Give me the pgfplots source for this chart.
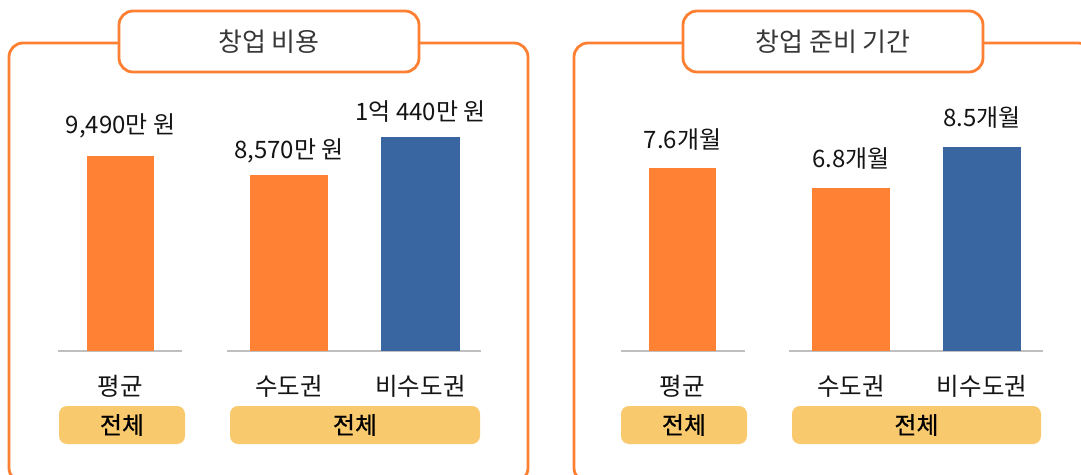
\documentclass[border=0pt]{standalone}
\usepackage{fontspec}
\setmainfont{Noto Sans CJK KR}
\newfontfamily\medfont{Noto Sans CJK KR}[FakeBold=0.7]
\usepackage{pgfplots}
\pgfplotsset{compat=1.18}
\definecolor{bOrange}{RGB}{254,129,52}
\definecolor{bBlue}{RGB}{57,101,160}
\definecolor{frameC}{RGB}{253,127,50}
\definecolor{tagC}{RGB}{249,201,110}
\definecolor{baseC}{RGB}{191,191,191}
\definecolor{txt}{RGB}{20,20,20}
\pgfplotsset{
  bargroup/.style={
    scale only axis, ybar, bar shift=0pt, ymin=0,
    axis x line*=bottom, hide y axis,
    x axis line style={baseC, line width=1.3pt, -},
    xtick style={draw=none},
    xticklabel style={font=\fontsize{24.5}{24}\selectfont, text=txt, anchor=base, yshift=-40pt},
    nodes near coords, point meta=explicit symbolic,
    every node near coord/.append style={font=\fontsize{24}{24}\selectfont, text=txt, anchor=base},
    clip=false, enlarge x limits=false,
    height=226pt,
  }
}
\begin{document}
\begin{tikzpicture}
\path[use as bounding box, clip] (0pt,0pt) rectangle (1081pt,474pt);
\begin{scope}[x=1pt,y=1pt]
  % panels
  \draw[frameC, line width=2.8pt, rounded corners=14pt] (9,-8) rectangle (528,431);
  \draw[frameC, line width=2.8pt, rounded corners=14pt] (574,-8) rectangle (1092,431);
  % titles
  \draw[frameC, fill=white, line width=2.8pt, rounded corners=14pt] (119,463) rectangle (419,402);
  \node[text=txt!85, font=\fontsize{26}{26}\selectfont] at (269,432.5) {창업 비용};
  \draw[frameC, fill=white, line width=2.8pt, rounded corners=14pt] (683,463) rectangle (983,402);
  \node[text=txt!85, font=\fontsize{26}{26}\selectfont] at (833,432.5) {창업 준비 기간};
  % tags
  \foreach \a/\b in {59/185, 230/480, 621/747, 792/1041}{
    \fill[tagC, rounded corners=8pt] (\a,68) rectangle (\b,30);
    \node[font=\medfont\fontsize{24}{24}\selectfont, text=black] at ({(\a+\b)/2},49) {전체};
  }
\end{scope}

\begin{axis}[bargroup, at={(58pt,123pt)}, anchor=south west, width=124pt,
  xmin=58, xmax=182, ymax=11000, xtick={120.5}, xticklabels={평균},
  every node near coord/.append style={yshift=23pt}]
  \addplot[fill=bOrange, draw=none, bar width=67] coordinates {(120.5,9490) [9,490만 원]};
\end{axis}
\begin{axis}[bargroup, at={(227pt,123pt)}, anchor=south west, width=254pt,
  xmin=227, xmax=481, ymax=11000, xtick={289,420.5}, xticklabels={수도권,비수도권},
  every node near coord/.append style={yshift=16pt}]
  \addplot[fill=bOrange, draw=none, bar width=78] coordinates {(289,8570) [8,570만 원]};
  \addplot[fill=bBlue, draw=none, bar width=79] coordinates {(420.5,10440) [1억 440만 원]};
\end{axis}
\begin{axis}[bargroup, at={(621pt,123pt)}, anchor=south west, width=124pt,
  xmin=621, xmax=745, ymax=9.4, xtick={682.5}, xticklabels={평균},
  every node near coord/.append style={yshift=20pt}]
  \addplot[fill=bOrange, draw=none, bar width=67] coordinates {(682.5,7.6) [7.6개월]};
\end{axis}
\begin{axis}[bargroup, at={(789pt,123pt)}, anchor=south west, width=254pt,
  xmin=789, xmax=1043, ymax=9.4, xtick={851,982}, xticklabels={수도권,비수도권},
  every node near coord/.append style={yshift=20pt}]
  \addplot[fill=bOrange, draw=none, bar width=78] coordinates {(851,6.8) [6.8개월]};
  \addplot[fill=bBlue, draw=none, bar width=78] coordinates {(982,8.5) [8.5개월]};
\end{axis}
\end{tikzpicture}
\end{document}
